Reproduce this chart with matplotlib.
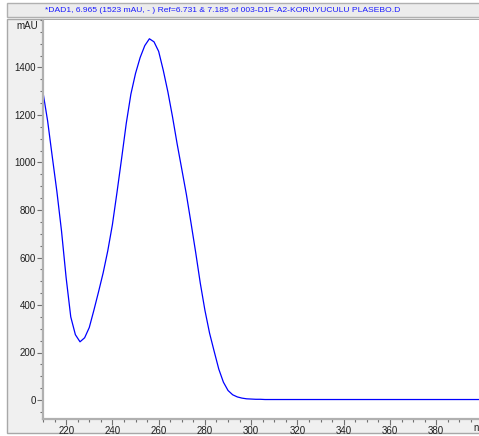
import matplotlib
matplotlib.use("Agg")
import matplotlib.pyplot as plt
from matplotlib.patches import Rectangle
from matplotlib.ticker import MultipleLocator

# UV spectrum (DAD) sampled every 2 nm
wavelength_nm = list(range(210, 402, 2))
absorbance_mau = [
    1295, 1175, 1025, 878, 712, 515, 350, 275, 245, 262,
    305, 378, 455, 535, 628, 738, 875, 1018, 1165, 1288,
    1375, 1442, 1492, 1521, 1508, 1468, 1388, 1297, 1192, 1078,
    972, 865, 745, 622, 492, 378, 282, 205, 130, 75,
    40, 22, 13, 8, 5, 4, 3, 3, 2, 2,
]
absorbance_mau += [2] * (len(wavelength_nm) - len(absorbance_mau))

title_text = "*DAD1, 6.965 (1523 mAU, - ) Ref=6.731 & 7.185 of 003-D1F-A2-KORUYUCULU PLASEBO.D"
y_unit = "mAU"
x_unit = "nm"
x_major = [220, 240, 260, 280, 300, 320, 340, 360, 380]
y_major = [0, 200, 400, 600, 800, 1000, 1200, 1400]

W, H = 479, 436
plt.rcParams["font.family"] = ["Liberation Sans", "DejaVu Sans"]
fig = plt.figure(figsize=(W / 100, H / 100), dpi=100)
fig.patch.set_facecolor("white")


def fx(px):
    return px / W


def fy(py):
    return 1 - py / H


# title bar
fig.patches.append(Rectangle((fx(7), fy(17)), fx(480) - fx(7), fy(3) - fy(17),
                             transform=fig.transFigure, facecolor="#ececec",
                             edgecolor="#b0b0b0", linewidth=1.0, zorder=-2))
# chart panel
fig.patches.append(Rectangle((fx(7), fy(433)), fx(480) - fx(7), fy(19) - fy(433),
                             transform=fig.transFigure, facecolor="#f0f0f0",
                             edgecolor="#a8a8a8", linewidth=1.0, zorder=-2))
fig.text(fx(45), fy(10), title_text, color="#1a1aff", fontsize=6.1,
         ha="left", va="center")

ax = fig.add_axes([fx(43), fy(419), fx(479) - fx(43), fy(20) - fy(419)])
ax.set_facecolor("white")
ax.plot(wavelength_nm, absorbance_mau, color="#0000ff", linewidth=0.9)

ax.set_xlim(210, 398.5)
ax.set_ylim(-80, 1600)
ax.set_xticks(x_major)
ax.set_yticks(y_major)
ax.xaxis.set_minor_locator(MultipleLocator(5))
ax.yaxis.set_minor_locator(MultipleLocator(50))

for side in ("top", "right"):
    ax.spines[side].set_visible(False)
for side in ("left", "bottom"):
    ax.spines[side].set_color("#b0b0b0")
    ax.spines[side].set_linewidth(1.6)

ax.tick_params(axis="both", which="major", direction="out", length=4,
               width=0.8, color="#707070", labelsize=7, labelcolor="#202020", pad=1)
ax.tick_params(axis="both", which="minor", direction="out", length=2.5,
               width=0.8, color="#707070")

fig.text(fx(480), fy(428), x_unit, fontsize=7, color="#202020",
         ha="center", va="center")
fig.text(fx(27), fy(26), y_unit, fontsize=7, color="#202020", ha="center", va="center")

fig.savefig("out.png", dpi=100, facecolor=fig.get_facecolor())
